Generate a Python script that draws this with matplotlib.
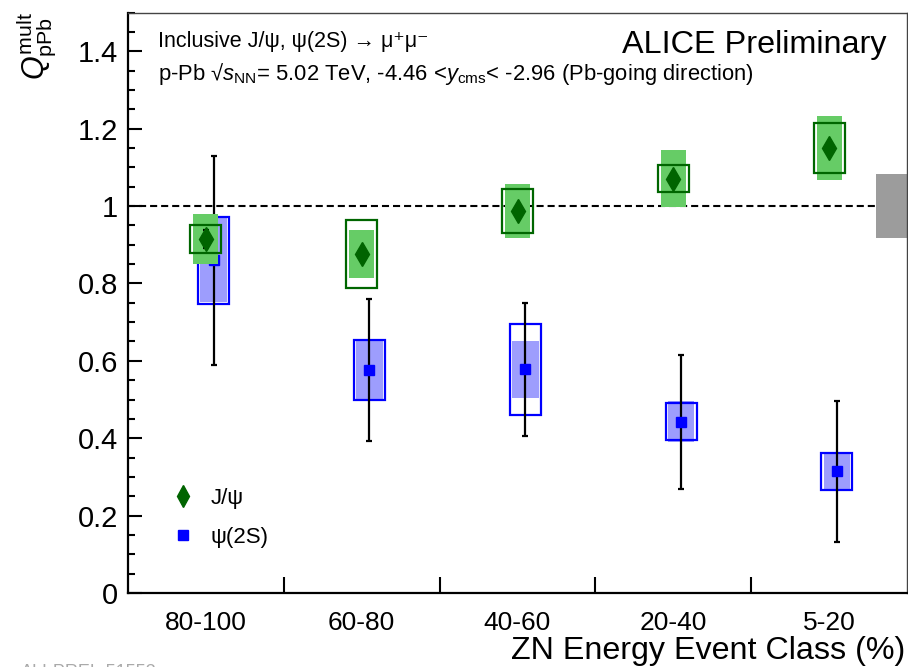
import numpy as np
import matplotlib
matplotlib.use('Agg')
import matplotlib.pyplot as plt
from matplotlib.lines import Line2D
from matplotlib.ticker import MultipleLocator, FuncFormatter

plt.rcParams['font.family'] = ['Liberation Sans', 'DejaVu Sans']
plt.rcParams['mathtext.fontset'] = 'custom'
plt.rcParams['mathtext.rm'] = 'Liberation Sans'
plt.rcParams['mathtext.it'] = 'Liberation Sans:italic'
plt.rcParams['mathtext.bf'] = 'Liberation Sans:bold'

# ZN energy event classes
classes = ['80-100', '60-80', '40-60', '20-40', '5-20']

# J/psi: value, stat error, uncorrelated syst (open box), correlated syst (filled box)
jpsi_val = [0.915, 0.877, 0.988, 1.071, 1.150]
jpsi_stat = [0.024, 0.012, 0.012, 0.012, 0.012]
jpsi_syst = [0.037, 0.088, 0.057, 0.036, 0.064]
jpsi_syst_corr = [0.065, 0.062, 0.070, 0.074, 0.082]

# psi(2S)
psi_val = [0.860, 0.576, 0.578, 0.443, 0.314]
psi_stat = [0.270, 0.184, 0.172, 0.173, 0.183]
psi_syst = [0.112, 0.077, 0.118, 0.048, 0.049]
psi_syst_corr = [0.109, 0.075, 0.074, 0.053, 0.044]

# global normalisation uncertainty
global_syst = 0.083

W, H = 908, 667


def fpos(xp, yp):
    return xp / W, 1 - yp / H


fig = plt.figure(figsize=(W / 100, H / 100), dpi=100)
ax = fig.add_axes([128 / W, 1 - 593 / H, 779 / W, (593 - 12.5) / H])

x = np.arange(len(classes)) + 0.5
xp = x + 0.05

jv, js, jsy, jsc = map(np.array, (jpsi_val, jpsi_stat, jpsi_syst, jpsi_syst_corr))
pv, ps, psy, psc = map(np.array, (psi_val, psi_stat, psi_syst, psi_syst_corr))

# psi(2S) first, J/psi drawn on top
ax.bar(xp, 2 * psc, bottom=pv - psc, width=0.17, color='#9d9dfd', zorder=2)
ax.bar(xp, 2 * psy, bottom=pv - psy, width=0.2, fill=False,
       edgecolor='#0000ff', linewidth=1.6, zorder=3)
ax.errorbar(xp, pv, yerr=ps, fmt='none', ecolor='black', elinewidth=1.6,
            capsize=2, capthick=1.6, zorder=4)
ax.plot(xp, pv, 's', color='#0000ff', ms=7.5, zorder=5)

ax.bar(x, 2 * jsc, bottom=jv - jsc, width=0.16, color='#66cc66', zorder=6)
ax.bar(x, 2 * jsy, bottom=jv - jsy, width=0.2, fill=False,
       edgecolor='#006600', linewidth=1.6, zorder=7)
ax.errorbar(x, jv, yerr=js, fmt='none', ecolor='black', elinewidth=1.6,
            capsize=2, capthick=1.6, zorder=8)
ax.plot(x, jv, 'd', color='#006400', ms=12, zorder=9)

# global box at unity and reference line
ax.bar(len(classes) - 0.1, 2 * global_syst, bottom=1 - global_syst, width=0.2,
       color='#9c9c9c', zorder=2)
ax.hlines(1, 0, len(classes) - 0.2, colors='black', linewidth=1.5,
          linestyles=(0, (3.4, 1.9)), zorder=1)

ax.set_xlim(0, len(classes))
ax.set_ylim(0, 1.5)

ax.set_xticks(np.arange(1, len(classes)))
ax.set_xticklabels([])
ax.set_xticks(x, minor=True)
ax.set_xticklabels(classes, minor=True)
ax.tick_params(axis='x', which='major', direction='in', length=11.5, width=1.5)
ax.tick_params(axis='x', which='minor', length=0, labelsize=19, pad=13)

ax.set_yticks(np.arange(0, 1.41, 0.2))
ax.yaxis.set_major_formatter(FuncFormatter(lambda v, p: '%g' % round(v, 2)))
ax.yaxis.set_minor_locator(MultipleLocator(0.05))
ax.tick_params(axis='y', which='major', direction='in', length=10, width=1.5,
               labelsize=21, pad=7)
ax.tick_params(axis='y', which='minor', direction='in', length=5, width=1.5)

for s in ('left', 'bottom'):
    ax.spines[s].set_linewidth(1.6)
for s in ('top', 'right'):
    ax.spines[s].set_linewidth(1.0)
    ax.spines[s].set_color('#444444')

# titles and labels
fig.text(*fpos(36, 12), r'$Q^{\rm mult}_{\rm pPb}$', rotation=90,
         ha='center', va='top', fontsize=22)
fig.text(*fpos(905, 659), 'ZN Energy Event Class (%)', ha='right',
         va='baseline', fontsize=23.2)
fig.text(*fpos(887, 53), 'ALICE Preliminary', ha='right', va='baseline',
         fontsize=23.3)
fig.text(*fpos(158, 47), 'Inclusive J/ψ, ψ(2S) → μ⁺μ⁻',
         va='baseline', fontsize=15.5)
fig.text(*fpos(158, 80),
         r'p-Pb √$s_{\rm NN}$= 5.02 TeV, -4.46 <$y_{\rm cms}$< -2.96 (Pb-going direction)',
         va='baseline', fontsize=15.8)
fig.text(*fpos(157, 664), 'ALI-PREL-51553', ha='right', va='top',
         color='#aaaaaa', fontsize=13)

handles = [Line2D([], [], marker='d', color='#006400', ls='none', ms=11),
           Line2D([], [], marker='s', color='#0000ff', ls='none', ms=7.5)]
ax.legend(handles, ['J/ψ', 'ψ(2S)'], loc='center left',
          bbox_to_anchor=fpos(172, 518), bbox_transform=fig.transFigure,
          frameon=False, fontsize=16, handlelength=1.0, handletextpad=0.75,
          labelspacing=0.82, borderpad=0, borderaxespad=0)

fig.savefig('out.png', dpi=100)
